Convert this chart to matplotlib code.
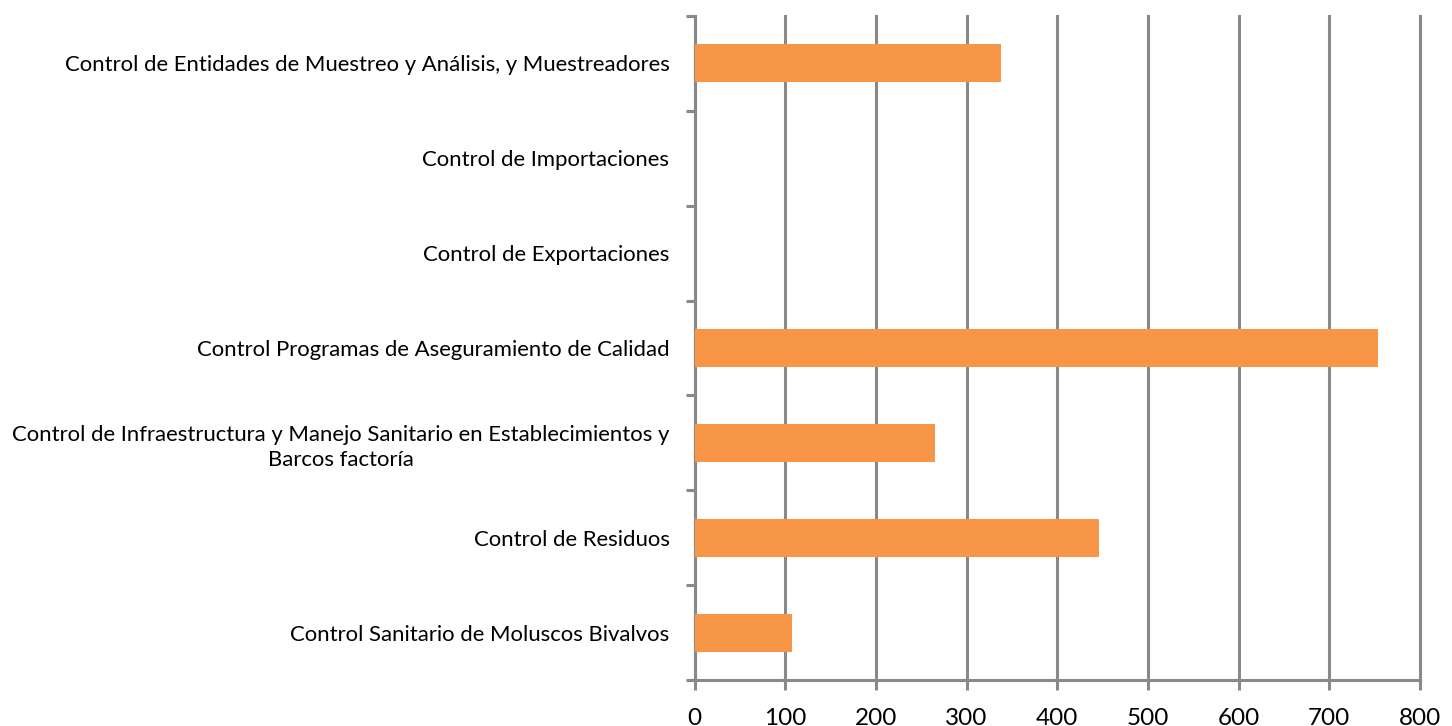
import matplotlib
matplotlib.use("Agg")
import matplotlib.pyplot as plt
import numpy as np

plt.rcParams['font.family'] = ['Lato', 'DejaVu Sans']

categories = [
    "Control de Entidades de Muestreo y Análisis, y Muestreadores",
    "Control de Importaciones",
    "Control de Exportaciones",
    "Control Programas de Aseguramiento de Calidad",
    "Control de Infraestructura y Manejo Sanitario en Establecimientos y\nBarcos factoría",
    "Control de Residuos",
    "Control Sanitario de Moluscos Bivalvos",
]
values = [338, 0, 0, 754, 265, 446, 108]
x_ticks = [0, 100, 200, 300, 400, 500, 600, 700, 800]

bar_color = "#F79646"
grid_color = "#898989"

fig = plt.figure(figsize=(14.52, 7.26), dpi=100)
ax = fig.add_axes([694.5 / 1452, 1 - 680 / 726, (1420 - 694.5) / 1452, (680 - 16) / 726])

y = np.arange(len(categories))
ax.barh(y, values, height=0.4, color=bar_color, zorder=3)

ax.set_xlim(0, 800)
ax.set_ylim(len(categories) - 0.5, -0.5)

ax.set_xticks(x_ticks)
ax.set_xticklabels([str(v) for v in x_ticks])
ax.xaxis.grid(True, color=grid_color, linewidth=2.2, zorder=1)
for gl in ax.get_xgridlines():
    gl.set_clip_on(False)
ax.tick_params(axis='x', length=7, width=2.2, color=grid_color, labelsize=17.5, pad=13)

ax.set_yticks(y)
ax.set_yticklabels(categories)
for lbl in ax.get_yticklabels():
    lbl.set_multialignment('center')
    lbl.set_linespacing(1.3)
ax.tick_params(axis='y', which='major', length=0, labelsize=15.9, pad=18)
ax.set_yticks(np.arange(-0.5, len(categories), 1.0), minor=True)
ax.tick_params(axis='y', which='minor', length=6.5, width=2.2, color=grid_color)

for side in ("top", "right"):
    ax.spines[side].set_visible(False)
for side in ("left", "bottom"):
    ax.spines[side].set_color(grid_color)
    ax.spines[side].set_linewidth(2.2)
ax.spines['bottom'].set_zorder(4)

fig.savefig("out.png", dpi=100, facecolor="white")
